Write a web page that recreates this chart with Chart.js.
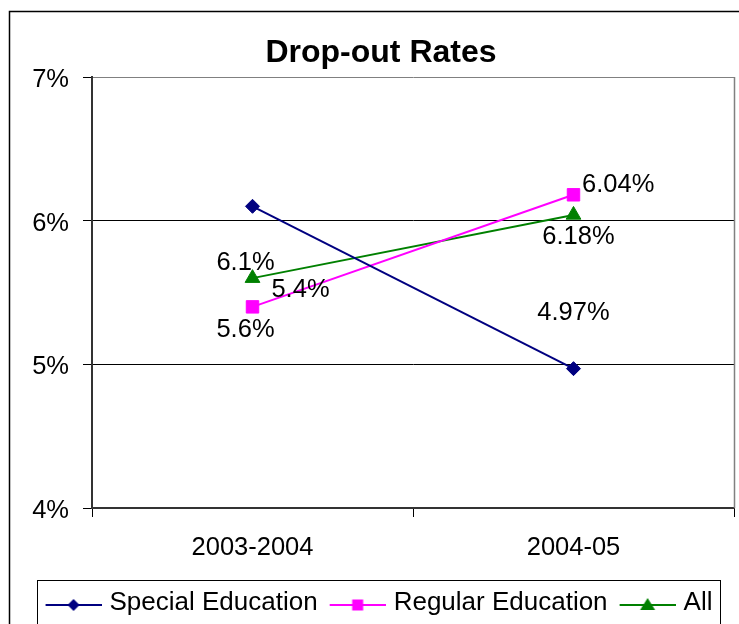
<!DOCTYPE html>
<html><head><meta charset="utf-8">
<script src="https://cdn.jsdelivr.net/npm/chart.js@4.4.1/dist/chart.umd.min.js"></script>
<style>html,body{margin:0;padding:0;background:#fff;} canvas{display:block;}</style>
</head><body>
<canvas id="c" width="739" height="624"></canvas>
<script>
// ---- data ----
const categories = ['2003-2004', '2004-05'];
const seriesNames = ['Special Education', 'Regular Education', 'All'];
const specialEducation = [6.1, 4.97];
const regularEducation = [5.4, 6.18];
const allStudents = [5.6, 6.04];
const yTicks = [4, 5, 6, 7];
const titleText = 'Drop-out Rates';

// ---- styling ----
const FONT = "'Liberation Sans', Arial, sans-serif";
const colors = ['#000080', '#FF00FF', '#008000'];
const pointStyles = ['rectRot', 'rect', 'triangle'];
const pointRadii = [7, 8.8, 8.5];
// data label offsets (px) relative to each point
const labelOffsets = [
  [[-7, 56.5], [0, -55.3]],
  [[48, -17.3], [5, 41.7]],
  [[-7, 51.7], [44.7, -30]]
];

function legendImage(i) {
  const W = 63, H = 30, cv = document.createElement('canvas');
  cv.width = W; cv.height = H;
  const g = cv.getContext('2d');
  const y = 17, x0 = W - 56, cx = x0 + 28;
  g.strokeStyle = colors[i]; g.lineWidth = 2;
  g.beginPath(); g.moveTo(x0, y); g.lineTo(W, y); g.stroke();
  g.fillStyle = colors[i];
  g.beginPath();
  if (i === 0) { g.moveTo(cx, y - 6); g.lineTo(cx + 6, y); g.lineTo(cx, y + 6); g.lineTo(cx - 6, y); }
  else if (i === 1) { g.rect(cx - 5.5, y - 5.5, 11, 11); }
  else { g.moveTo(cx, y - 7); g.lineTo(cx + 7.5, y + 5); g.lineTo(cx - 7.5, y + 5); }
  g.closePath(); g.fill();
  return cv;
}
const legendImgs = [0, 1, 2].map(legendImage);

const seriesValues = [specialEducation, regularEducation, allStudents];
const datasets = seriesValues.map((vals, i) => ({
  label: seriesNames[i],
  data: vals,
  borderColor: colors[i],
  backgroundColor: colors[i],
  borderWidth: 2,
  pointStyle: pointStyles[i],
  pointRadius: pointRadii[i],
  pointHoverRadius: pointRadii[i],
  pointBackgroundColor: colors[i],
  pointBorderColor: colors[i],
  pointBorderWidth: 1,
  tension: 0,
  fill: false,
  labelOffsets: labelOffsets[i]
}));

const decor = {
  id: 'decor',
  afterLayout(chart) {
    if (chart.titleBlock) chart.titleBlock.left += 28;
    if (chart.legend) chart.legend.left += 22;
  },
  beforeDraw(chart) {
    const c = chart.ctx; c.save(); c.fillStyle = '#fff'; c.fillRect(0, 0, chart.width, chart.height); c.restore();
  },
  afterDatasetsDraw(chart) {
    const c = chart.ctx; c.save();
    c.font = '25.5px ' + FONT; c.fillStyle = '#000'; c.textAlign = 'center'; c.textBaseline = 'middle';
    chart.data.datasets.forEach((ds, i) => {
      const meta = chart.getDatasetMeta(i);
      meta.data.forEach((pt, j) => {
        const off = ds.labelOffsets[j];
        c.fillText(ds.data[j] + '%', pt.x + off[0], pt.y + off[1]);
      });
    });
    c.restore();
  },
  afterDraw(chart) {
    const c = chart.ctx, a = chart.chartArea;
    c.save();
    c.strokeStyle = '#808080'; c.lineWidth = 1.5;
    c.beginPath(); c.moveTo(a.right + 0.5, a.top); c.lineTo(a.right + 0.5, a.bottom); c.stroke();
    c.strokeStyle = '#000'; c.lineWidth = 1.5;
    c.strokeRect(9.5, 11.5, 780, 700);
    const l = chart.legend;
    c.lineWidth = 1; c.strokeStyle = '#000';
    c.strokeRect(37.5, l.top + 0.5, 683, 100);
    c.restore();
  }
};

new Chart(document.getElementById('c'), {
  type: 'line',
  data: { labels: categories, datasets },
  plugins: [decor],
  options: {
    responsive: false,
    animation: false,
    layout: { autoPadding: false, padding: { top: 0, right: 5, bottom: -2, left: 0 } },
    plugins: {
      title: {
        display: true, text: titleText, color: '#000',
        font: { family: FONT, size: 32, weight: 'bold' },
        padding: { top: 33.5, bottom: 5.1 }
      },
      legend: {
        display: true, position: 'bottom',
        labels: {
          color: '#000', font: { family: FONT, size: 26 },
          usePointStyle: true, pointStyleWidth: 53, padding: 10,
          generateLabels(chart) {
            const items = Chart.defaults.plugins.legend.labels.generateLabels(chart);
            items.forEach((it) => { it.pointStyle = legendImgs[it.datasetIndex]; it.rotation = 0; it.lineWidth = 0; });
            return items;
          }
        }
      },
      tooltip: { enabled: false }
    },
    scales: {
      x: {
        offset: true,
        afterFit: s => { s.height = 72; s.paddingLeft = 0; s.paddingRight = 0; },
        ticks: { font: { family: FONT, size: 25.5 }, color: '#000', padding: 16, maxRotation: 0 },
        grid: { offset: true, drawOnChartArea: false, tickLength: 9, color: '#000' },
        border: { color: '#333', width: 2 }
      },
      y: {
        min: 4, max: 7,
        afterBuildTicks: s => { s.ticks = yTicks.map(v => ({ value: v })); },
        afterFit: s => { s.width = 92; },
        ticks: { callback: v => v + '%', font: { family: FONT, size: 25.5 }, color: '#000', padding: 14, labelOffset: 3 },
        grid: {
          color: ctx => (ctx.tick && ctx.tick.value === 7) ? '#808080' : '#000',
          tickColor: '#000', tickLength: 9, lineWidth: 1
        },
        border: { color: '#333', width: 2 }
      }
    }
  }
});
</script>
</body></html>
